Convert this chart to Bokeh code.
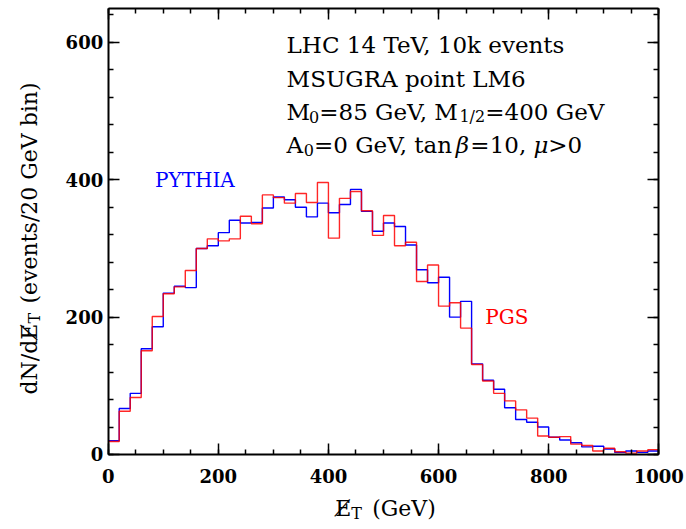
from math import pi
from bokeh.plotting import figure
from bokeh.models import Label, LinearAxis, FixedTicker
from bokeh.embed import file_html
from bokeh.resources import INLINE

# ---- data (events per 20 GeV bin) ----
bin_edges = list(range(0, 1001, 20))
pythia = [20, 67, 89, 154, 186, 235, 245, 243, 300, 304,
          323, 341, 337, 338, 359, 375, 371, 360, 346, 366,
          352, 364, 386, 354, 325, 337, 332, 305, 269, 250,
          258, 200, 223, 132, 108, 95, 68, 51, 47, 40,
          25, 21, 17, 11, 12, 8, 3, 5, 3, 5]
pgs = [19, 63, 83, 151, 201, 234, 244, 268, 300, 314,
       311, 314, 347, 336, 378, 374, 366, 380, 367, 396,
       315, 373, 383, 355, 319, 348, 304, 309, 252, 276,
       216, 221, 184, 131, 107, 89, 78, 65, 53, 27,
       25, 26, 15, 13, 5, 9, 4, 2, 5, 7]
x_lim = (0, 1000)
y_lim = (0, 650)
x_major = [0, 200, 400, 600, 800, 1000]
x_minor = list(range(0, 1001, 50))
y_major = [0, 200, 400, 600]
y_minor = list(range(0, 641, 40))

SERIF = "DejaVu Serif"

# The frame covers the whole canvas; the axes are pinned at the box edges,
# so that titles with subscripts can be drawn as real text next to them.
p = figure(width=685, height=528,
           x_range=(-195.6, 1048.5), y_range=(-107.8, 661.1),
           output_backend="svg", toolbar_location=None,
           min_border_left=0, min_border_right=0,
           min_border_top=0, min_border_bottom=0)
p.grid.visible = False
p.outline_line_color = None
p.background_fill_color = "white"
p.border_fill_color = "white"


def style_axis(ax, major, minor, bounds, loc, show_labels=True, standoff=6):
    ax.ticker = FixedTicker(ticks=major, minor_ticks=minor)
    ax.bounds = bounds
    ax.fixed_location = loc
    ax.axis_line_color = "black"
    ax.axis_line_width = 2
    ax.major_tick_in = 11
    ax.major_tick_out = 0
    ax.minor_tick_in = 5
    ax.minor_tick_out = 0
    ax.major_tick_line_color = "black"
    ax.minor_tick_line_color = "black"
    ax.major_tick_line_width = 1.5
    ax.minor_tick_line_width = 1.5
    if show_labels:
        ax.major_label_text_font = SERIF
        ax.major_label_text_font_style = "bold"
        ax.major_label_text_font_size = "18px"
        ax.major_label_text_color = "black"
        ax.major_label_standoff = standoff
    else:
        ax.major_label_text_color = None


style_axis(p.xaxis[0], x_major, x_minor, x_lim, y_lim[0], True, 15)
style_axis(p.yaxis[0], y_major, y_minor, y_lim, x_lim[0], True, 5)
top = LinearAxis()
style_axis(top, x_major, x_minor, x_lim, y_lim[1], False)
p.add_layout(top, "above")
right = LinearAxis()
style_axis(right, y_major, y_minor, y_lim, x_lim[1], False)
p.add_layout(right, "right")

# ---- histograms ----
p.step(x=bin_edges, y=pythia + [pythia[-1]], mode="after",
       line_color="#0000ff", line_width=1.4)
p.step(x=bin_edges, y=pgs + [pgs[-1]], mode="after",
       line_color="#ff0000", line_width=1.4, line_alpha=0.85)


def txt(x, y, text, dx=0, dy=0, size=22, color="black", style="normal",
        angle=0):
    p.add_layout(Label(x=x, y=y, x_offset=dx, y_offset=dy, text=text,
                       angle=angle, text_font=SERIF,
                       text_font_size=f"{size}px",
                       text_font_style=style, text_color=color,
                       text_baseline="middle", text_align="left"))


# series labels
txt(85, 400, "PYTHIA", size=20, color="#0000ff")
txt(685, 200, "PGS", size=20, color="#ff0000")

# info block
X0 = 324
FS = 23
k = FS / 20
SUB = 16
txt(X0, 597, "LHC 14 TeV, 10k events", size=FS)
txt(X0, 547, "MSUGRA point LM6", size=FS)
txt(X0, 499, "M", size=FS)
txt(X0, 499, "0", dx=19.5 * k, dy=-5, size=SUB)
txt(X0, 499, "=85 GeV, M", dx=28.4 * k, size=FS)
txt(X0, 499, "1/2", dx=150.3 * k, dy=-5, size=SUB)
txt(X0, 499, "=400 GeV", dx=172.8 * k, size=FS)
txt(X0, 450, "A", size=FS)
txt(X0, 450, "0", dx=14.9 * k, dy=-5, size=SUB)
txt(X0, 450, "=0 GeV, tan", dx=23.8 * k, size=FS)
txt(X0, 450, "\u03b2", dx=147.2 * k, style="italic", size=FS)
txt(X0, 450, "=10,", dx=159.8 * k, size=FS)
txt(X0, 450, "\u03bc", dx=214.7 * k, style="italic", size=FS)
txt(X0, 450, ">0", dx=227.5 * k, size=FS)

# x-axis title (anchored at the origin, offsets in pixels)
XT = 227
txt(0, 0, "E\u0338", dx=XT, dy=-54)
txt(0, 0, "T", dx=XT + 16, dy=-59, size=SUB)
txt(0, 0, "(GeV)", dx=XT + 37, dy=-54)

# y-axis title, rotated
YT = 60
txt(0, 0, "dN/dE\u0338", dx=-79, dy=YT, angle=pi / 2)
txt(0, 0, "T", dx=-74, dy=YT + 71, size=SUB, angle=pi / 2)
txt(0, 0, "(events/20 GeV bin)", dx=-79, dy=YT + 91, angle=pi / 2)

open("out.html", "w").write(file_html(p, INLINE))
